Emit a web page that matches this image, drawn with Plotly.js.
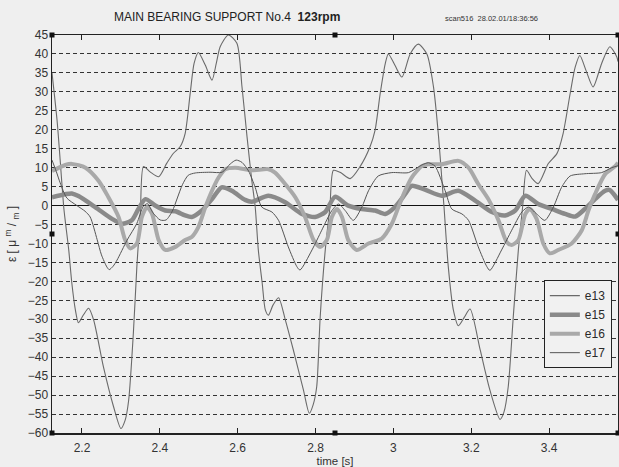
<!DOCTYPE html>
<html>
<head>
<meta charset="utf-8">
<script src="https://cdn.plot.ly/plotly-3.0.1.min.js"></script>
<style>
html,body{margin:0;padding:0;background:#efefef;}
#chart{width:619px;height:467px;}
</style>
</head>
<body>
<div id="chart"></div>
<script>
// ---- data (time in s, strain in µm/m) ----
const seriesNames = ["e13", "e15", "e16", "e17"];

const e13_t = [2.123,2.136,2.144,2.153,2.157,2.166,2.174,2.183,2.191,2.204,2.217,2.230,2.255,2.281,2.300,2.311,2.320,2.332,2.341,2.350,2.358,2.375,2.397,2.418,2.435,2.452,2.465,2.478,2.488,2.499,2.517,2.534,2.545,2.555,2.576,2.598,2.611,2.624,2.636,2.645,2.653,2.663,2.671,2.679,2.691,2.705,2.722,2.743,2.769,2.784,2.794,2.803,2.812,2.825,2.837,2.846,2.863,2.889,2.914,2.940,2.953,2.966,2.979,2.987,3.004,3.022,3.043,3.064,3.086,3.103,3.116,3.124,3.130,3.141,3.154,3.167,3.182,3.197,3.223,3.248,3.274,3.284,3.295,3.308,3.321,3.332,3.342,3.356,3.372,3.398,3.420,3.436,3.454,3.467,3.479,3.495,3.513,3.535,3.556,3.574,3.577];
const e13_v = [35,22.5,12,-0.3,-4,-11.7,-20.5,-27.5,-30.9,-28.8,-27.1,-30.2,-42.5,-53,-58.8,-56.6,-51.3,-33.7,-16.1,-2,10.3,8.9,7.6,11.2,13.8,15.5,19,29.6,37.5,40.4,37,33.1,37.5,41.9,45,42.8,31.4,18.2,6.8,-0.3,-11.7,-20.5,-27.5,-28.9,-26.2,-24.3,-30,-38.1,-48.7,-54.8,-52.5,-47.8,-29.3,-11.7,-0.3,9.3,8.8,7.1,10.2,15.5,19.9,29.5,37.4,40,37,33.9,40,42.6,40,31.3,18.2,7.6,-0.3,-16.1,-27.5,-31.7,-29.5,-27.3,-38.1,-48.7,-56.4,-54.5,-47.8,-29.3,-11.7,-0.3,9.3,7.2,5.8,11.1,13.7,19,29.5,36.5,39.6,35.6,31.3,37.5,41.9,39.2,38];

const e15_t = [2.123,2.157,2.174,2.191,2.234,2.277,2.303,2.328,2.345,2.363,2.388,2.414,2.440,2.465,2.482,2.508,2.534,2.559,2.585,2.619,2.636,2.679,2.722,2.765,2.799,2.825,2.850,2.884,2.919,2.953,2.979,3.004,3.030,3.047,3.081,3.124,3.167,3.210,3.253,3.287,3.313,3.339,3.372,3.407,3.441,3.467,3.492,3.518,3.544,3.556,3.577];
const e15_v = [2.2,3.0,3.2,2.5,-0.4,-3.5,-4.8,-3.9,-0.9,1.7,0,-1.3,-1.5,-2.6,-3.0,-1.3,1.7,4.8,3.9,1.5,1.0,2.6,0.9,-2.2,-3.0,-1.7,2.3,0,-0.9,-1.3,-2.2,-0.4,3.0,5.2,4.2,2.6,3.9,1.3,-1.7,-2.6,-1.3,2.6,0.4,-0.9,-2.2,-2.9,-0.9,1.7,3.9,4.1,1.5];

const e16_t = [2.123,2.157,2.174,2.209,2.243,2.268,2.294,2.311,2.324,2.341,2.354,2.367,2.380,2.397,2.414,2.440,2.465,2.482,2.499,2.517,2.534,2.551,2.568,2.594,2.636,2.679,2.696,2.722,2.748,2.773,2.795,2.812,2.829,2.842,2.855,2.868,2.884,2.906,2.936,2.970,2.996,3.013,3.030,3.047,3.073,3.090,3.124,3.167,3.193,3.218,3.244,3.270,3.291,3.304,3.321,3.339,3.351,3.368,3.385,3.402,3.424,3.458,3.484,3.501,3.518,3.544,3.570,3.577];
const e16_v = [9.1,10.7,11.0,10,6.5,2.2,-3.0,-9.1,-11.3,-10,-3.0,-0.4,-2.2,-9.1,-11.7,-10.9,-9.1,-8.3,-5.7,-0.4,3.9,7.4,9.6,10,9.3,9.6,8.7,5.7,2.2,-3.0,-9.1,-10.9,-9.1,-3.0,-0.9,-3.0,-9.1,-11.7,-10,-8.7,-4.8,-0.4,3.9,7.4,10.4,10.9,10.9,11.8,10,5.7,1.7,-3.9,-9.6,-10.4,-9.1,-2.2,-0.9,-3.5,-10,-12.6,-11.7,-10,-6.5,-1.3,3.0,8.3,10.4,11.3];

const e17_t = [2.123,2.134,2.144,2.161,2.187,2.208,2.221,2.239,2.250,2.264,2.270,2.280,2.290,2.316,2.341,2.357,2.368,2.383,2.401,2.416,2.432,2.445,2.458,2.473,2.491,2.529,2.560,2.581,2.596,2.611,2.628,2.645,2.662,2.688,2.705,2.730,2.752,2.760,2.791,2.816,2.842,2.859,2.876,2.897,2.919,2.936,2.961,2.996,3.039,3.073,3.090,3.107,3.133,3.150,3.176,3.193,3.218,3.240,3.248,3.278,3.304,3.330,3.347,3.368,3.389,3.411,3.432,3.454,3.492,3.535,3.561,3.577];
const e17_v = [12,9,6,2,0,-1.5,-3,-9,-13,-16.2,-16.9,-16,-14.4,-9.1,-4.7,-0.3,0.5,-2,-3.8,-3.8,-1.5,2,5.5,8,8.6,8.8,8.8,11,12,11.4,9.1,4.8,-0.4,-1.7,-3.9,-10.9,-16.1,-17,-11.7,-6.5,-1.3,0.4,-1.3,-3.9,-0.4,3.9,7.8,8.7,8.7,10.7,11.3,10.4,3.9,-0.9,-2.2,-3.9,-10.9,-16.1,-17.1,-11.7,-6.5,-1.7,-0.4,-2.2,-3.9,-0.4,4.8,7.8,8.4,8.7,10,10.5];

const xTickVals = [2.2,2.4,2.6,2.8,3.0,3.2,3.4];
const xTickText = ["2.2","2.4","2.6","2.8","3","3.2","3.4"];
const yTickVals = [45,40,35,30,25,20,15,10,5,0,-5,-10,-15,-20,-25,-30,-35,-40,-45,-50,-55,-60];

const titleMain = "MAIN BEARING SUPPORT No.4  <b>123rpm</b>";
const titleScan = "scan516  28.02.01/18:36:56";
const xTitle = "time [s]";
const yTitle = "ε [ μ <sup>m</sup> / <sub>m</sub> ]";

// ---- traces ----
const styles = {
  e13: {color:"#6a6a6a", width:1.1},
  e15: {color:"#8a8a8a", width:4.5},
  e16: {color:"#a9a9a9", width:4},
  e17: {color:"#555555", width:1}
};
const dataSets = {
  e13: [e13_t, e13_v], e15: [e15_t, e15_v], e16: [e16_t, e16_v], e17: [e17_t, e17_v]
};
const traces = seriesNames.map(n => ({
  type: "scatter", mode: "lines", name: n,
  x: dataSets[n][0], y: dataSets[n][1],
  line: {color: styles[n].color, width: styles[n].width, shape: "spline", smoothing: 0.7}
}));

// position markers (small black squares on the frame)
const sq = (xa, ya) => ({
  type: "rect", xref: "paper", yref: "paper",
  xsizemode: "pixel", ysizemode: "pixel", xanchor: xa, yanchor: ya,
  x0: -2.5, x1: 2.5, y0: -2.5, y1: 2.5,
  fillcolor: "#111", line: {width: 0}, layer: "above"
});

const layout = {
  width: 619, height: 467,
  paper_bgcolor: "#efefef", plot_bgcolor: "#efefef",
  margin: {l: 52, r: 1, t: 35, b: 34},
  font: {family: "Liberation Sans, Arial, sans-serif", size: 12, color: "#2a2a2a"},
  showlegend: true,
  legend: {
    x: 0.869, y: 0.384, xanchor: "left", yanchor: "top",
    bgcolor: "#f1f1f1", bordercolor: "#222", borderwidth: 1,
    font: {size: 12, color: "#2a2a2a"}, tracegroupgap: 0
  },
  xaxis: {
    range: [2.123, 3.577], tickmode: "array", tickvals: xTickVals, ticktext: xTickText,
    ticks: "inside", ticklen: 5, tickcolor: "#222", tickwidth: 1,
    showline: true, linecolor: "#222", linewidth: 1.5, mirror: "allticks",
    showgrid: false, zeroline: false, ticklabelstandoff: 3,
    tickfont: {size: 12, color: "#333"},
    title: {text: xTitle, font: {size: 11.5, color: "#333"}, standoff: 6}
  },
  yaxis: {
    range: [-60, 45], tickmode: "array", tickvals: yTickVals,
    ticks: "", showline: true, linecolor: "#222", linewidth: 1.5, mirror: true,
    showgrid: true, gridcolor: "#333", griddash: "4px,3px", gridwidth: 1,
    zeroline: true, zerolinecolor: "#111", zerolinewidth: 1.2,
    tickfont: {size: 12, color: "#333"},
    title: {text: yTitle, font: {size: 12, color: "#333"}, standoff: 8}
  },
  annotations: [
    {text: titleMain, xref: "paper", yref: "paper", x: 0.309, y: 1.044,
     xanchor: "center", yanchor: "middle", showarrow: false,
     font: {size: 12, color: "#222"}},
    {text: titleScan, xref: "paper", yref: "paper", x: 0.777, y: 1.042,
     xanchor: "center", yanchor: "middle", showarrow: false,
     font: {size: 7.5, color: "#333"}}
  ],
  shapes: [sq(0,1), sq(0.5,1), sq(1,1), sq(0,0), sq(0.5,0), sq(1,0), sq(0,0.5), sq(1,0.5)]
};

Plotly.newPlot("chart", traces, layout, {displayModeBar: false, staticPlot: true});
</script>
</body>
</html>
